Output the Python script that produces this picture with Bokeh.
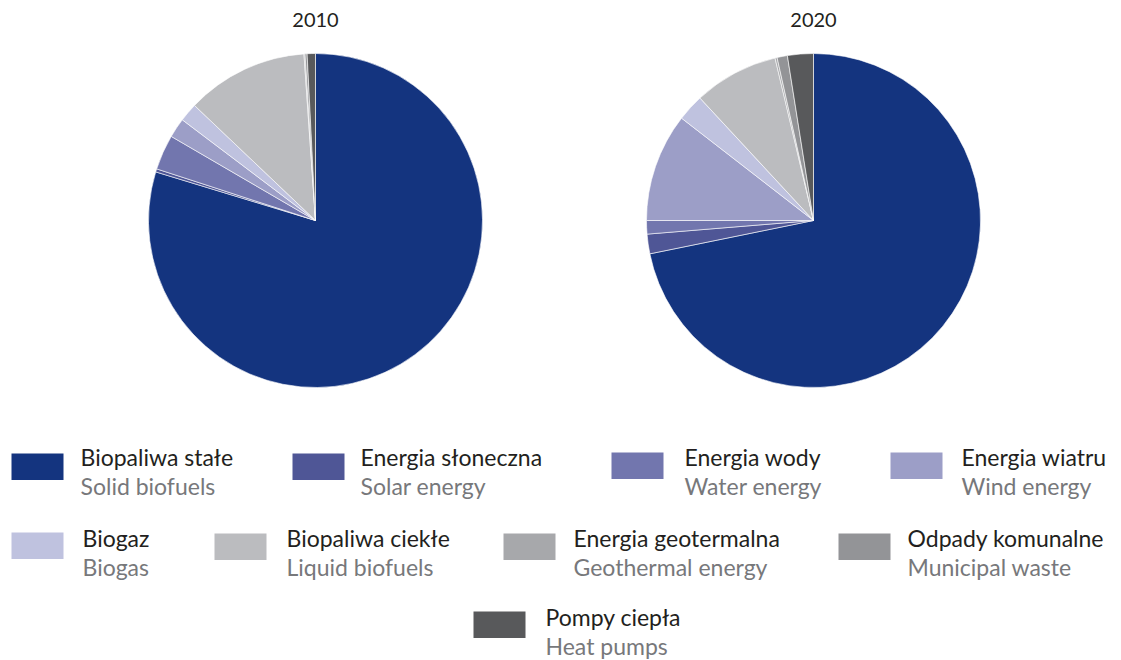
import numpy as np
from bokeh.plotting import figure
from bokeh.models import Range1d, ColumnDataSource
from bokeh.core.properties import value
from bokeh.embed import file_html
from bokeh.resources import INLINE

# ---- data ----
years = ["2010", "2020"]
categories_pl = ["Biopaliwa stałe", "Energia słoneczna", "Energia wody", "Energia wiatru",
                 "Biogaz", "Biopaliwa ciekłe", "Energia geotermalna", "Odpady komunalne",
                 "Pompy ciepła"]
categories_en = ["Solid biofuels", "Solar energy", "Water energy", "Wind energy",
                 "Biogas", "Liquid biofuels", "Geothermal energy", "Municipal waste",
                 "Heat pumps"]
share_2010 = [79.7, 0.3, 3.4, 1.9, 1.8, 11.8, 0.1, 0.2, 0.8]
share_2020 = [71.8, 1.9, 1.3, 10.5, 2.6, 8.2, 0.2, 1.0, 2.5]
colors = ["#14347F", "#4F5696", "#7276AE", "#9C9EC7", "#BFC2DF",
          "#BBBCBF", "#A7A8AB", "#939497", "#58595B"]

# ---- layout (screen pixels) ----
W, H = 1121, 660
pie_cx = [315, 813]
pie_cy = 220
pie_r = 167
title_base = 19
sw_left = [11, 292, 611, 890, 11, 214, 503, 838, 473]
sw_top = [453, 453, 452, 452, 532, 533, 533, 533, 611]
sw_w, sw_h = 52, 26.5
txt_x = [80, 360, 684, 961, 82, 286, 573, 907, 545]
pl_base = [456, 456, 456, 456, 537, 537, 537, 537, 616]
en_gap = 29

FONT = "Lato"

def Y(v):
    return H - np.asarray(v, dtype=float)

p = figure(width=W, height=H, x_range=Range1d(0, W), y_range=Range1d(0, H),
           output_backend="svg", toolbar_location=None, min_border=0,
           x_axis_type=None, y_axis_type=None)
p.outline_line_color = None
p.grid.visible = False
p.background_fill_color = "white"
p.border_fill_color = "white"

for cx, yr, shares in zip(pie_cx, years, [share_2010, share_2020]):
    s = np.asarray(shares, dtype=float)
    frac = s / s.sum() * 2 * np.pi
    cum = np.concatenate([[0], np.cumsum(frac)])
    start = np.pi / 2 - cum[:-1]
    end = np.pi / 2 - cum[1:]
    src = ColumnDataSource(dict(start=start, end=end, color=colors,
                                x=[cx] * len(s), y=[H - pie_cy] * len(s)))
    p.wedge(x="x", y="y", radius=pie_r, start_angle="start", end_angle="end",
            direction="clock", fill_color="color", line_color="white",
            line_width=0.6, source=src)
    p.text(x=[cx], y=[H - title_base], text=[yr], text_align="center",
           text_baseline="alphabetic", text_font=value(FONT),
           text_font_size="20px", text_color="#231F20")

sl = np.asarray(sw_left, dtype=float)
st = np.asarray(sw_top, dtype=float)
p.quad(left=sl, right=sl + sw_w, top=Y(st), bottom=Y(st + sw_h),
       fill_color=colors, line_color=None)

p.text(x=txt_x, y=Y(pl_base), text=categories_pl, text_align="left",
       text_baseline="alphabetic", text_font=value(FONT), text_font_size="23px",
       text_color="#231F20")
p.text(x=txt_x, y=Y(np.asarray(pl_base) + en_gap), text=categories_en, text_align="left",
       text_baseline="alphabetic", text_font=value(FONT), text_font_size="23px",
       text_color="#77787B")

open("out.html", "w").write(file_html(p, INLINE))
